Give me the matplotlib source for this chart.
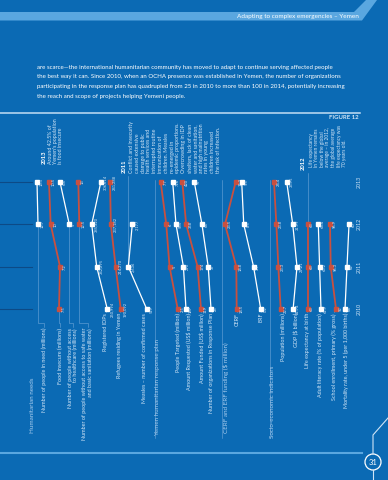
import matplotlib.pyplot as plt
from matplotlib.patches import Circle, Polygon

plt.rcParams['font.family'] = ['Lato', 'DejaVu Sans']

W, H = 388, 480
BG = '#0b6ab4'
BAND = '#5aa7e0'
RED = '#c9503f'
WHITE = '#ffffff'
TXT = '#d3e6f7'
SECTION = '#a9cdee'
GUIDE = '#6ea6d8'
DARK = '#0d4a86'

# ---- data ----
years = [2010, 2011, 2012, 2013]

people_in_need = [None, None, 12.7, 13.1]
food_insecure = [7.5, 7.2, 10, 10.5]
no_healthcare = [None, None, 5, 6.4]
no_water = [None, None, 12.5, 13]
idps = [250994, 342295, 385320, 306614]
refugees = [190092, 214270, 237182, 241288]
measles = [519, 2636, 2177, None]
people_targeted = [2.5, 5, 6, 7.7]
amount_requested = [187, 290, 585, 716]
amount_funded = [119, 174, 358, 420]
organizations = [25, 37, 64, 97]
cerf = [14.5, 14.8, 23.5, 15.3]
erf = [0.2, 3.7, 8.5, 9.5]
population = [22.7, 23.3, 23.8, 24.4]
gdp = [31.74, 29.21, 31.99, 35.95]
life_expectancy = [63, 63, 63, None]
adult_literacy = [61.9, 63.2, 64.4, None]
school_enrollment = [92, 96.3, 96.9, None]
mortality_u5 = [64, 62, 60, None]

paragraph = [
    "are scarce\u2014the international humanitarian community has moved to adapt to continue serving affected people",
    "the best way it can. Since 2010, when an OCHA presence was established in Yemen, the number of organizations",
    "participating in the response plan has quadrupled from 25 in 2010 to more than 100 in 2014, potentially increasing",
    "the reach and scope of projects helping Yemeni people.",
]

note_2013 = "Around 42.5% of\nYemen's population\nis food insecure"
note_2011 = ("Conflict and insecurity\ncaused extensive\ndamage to public\nhealth services and\n"
             "interrupted routine\nimmunization of\nchildren. Measles\nre-emerged in\n"
             "epidemic proportions.\nOvercrowding in IDP\nshelters, lack of clean\n"
             "water and sanitation,\nand high malnutrition\nrates in young\n"
             "children increased\nthe risk of infection.")
note_2012 = ("Life expectancy\nin Yemen remains\nbelow the global\naverage \u2013 in 2012,\n"
             "the global average\nlife expectancy was\n70 years old.")

# values, label, colour, px of max value, px of min value, label x, label top, comma format
series = [
    (people_in_need, 'Number of people in need (millions)', WHITE, 37, 38, 44, 328, False),
    (food_insecure, 'Food insecure (millions)', RED, 49, 60, 60, 328, False),
    (no_healthcare, 'Number of people without access\nto healthcare (millions)', WHITE, 60, 69.3, 73, 328, False),
    (no_water, 'Number of people without access to safe water\nand basic sanitation (millions)', RED, 78.3, 79.3, 87.5, 328, False),
    (idps, 'Registered IDPs', WHITE, 91.7, 107.3, 106, 313, True),
    (refugees, 'Refugees residing in Yemen', RED, 110, 120.7, 120, 313, True),
    (measles, 'Measles \u2013 number of confirmed cases', WHITE, 128.3, 146.7, 145, 313, True),
    (people_targeted, 'People Targeted (million)', RED, 160.7, 177.7, 178, 313, False),
    (amount_requested, 'Amount Requested (US$ million)', WHITE, 172.7, 186, 189, 313, False),
    (amount_funded, 'Amount Funded (US$ million)', RED, 182.3, 201, 201, 313, False),
    (organizations, 'Number of organizations in Response Plan', WHITE, 194.3, 211, 212, 313, False),
    (cerf, 'CERF', RED, 225, 236.7, 237, 313, False),
    (erf, 'ERF', WHITE, 241.7, 260.7, 261, 313, False),
    (population, 'Population (millions)', RED, 274, 280.7, 283, 313, False),
    (gdp, 'GDP ($ billion)', WHITE, 286.7, 297, 295, 313, False),
    (life_expectancy, 'Life expectancy at birth', RED, 307.5, 307.5, 307, 313, False),
    (adult_literacy, 'Adult literacy rate (% of population)', WHITE, 318.3, 321, 320, 313, False),
    (school_enrollment, 'School enrollment, primary (% gross)', RED, 330, 336, 334, 313, False),
    (mortality_u5, 'Mortality rate, under 5 (per 1,000 births)', WHITE, 345, 349, 346, 313, False),
]

sections = [
    ('Humanitarian needs', None, 33, 433),
    ('Yemen humanitarian response plan', 154.5, 158, 436),
    ('CERF and ERF funding ($ million)', 222, 226, 433),
    ('Socio-economic indicators', 270, 273, 438),
]

Y_TOP, Y_BOT = 182, 309   # pixel rows of 2013 and 2010

fig = plt.figure(figsize=(W / 100, H / 100), dpi=100)
fig.patch.set_facecolor(BG)
ax = fig.add_axes([0, 0, 1, 1])
ax.set_xlim(0, W)
ax.set_ylim(H, 0)
ax.axis('off')


def year_px(yr):
    return Y_BOT + (yr - years[0]) * (Y_TOP - Y_BOT) / (years[-1] - years[0])


def to_px(a, x, y):
    return ax.transData.inverted().transform(a.transData.transform((x, y)))


def draw_series(values, color, px_hi, px_lo, comma):
    pts = [(y, v) for y, v in zip(years, values) if v is not None]
    ys = [p[0] for p in pts]
    vs = [p[1] for p in pts]
    vmax, vmin = max(vs), min(vs)
    if vmax == vmin:
        vmax, vmin = vmax + 1, vmin - 1
        px_hi, px_lo = px_hi - 1, px_lo + 1
    a = fig.add_axes([px_hi / W, 1 - Y_BOT / H, (px_lo - px_hi) / W, (Y_BOT - Y_TOP) / H])
    a.set_xlim(vmax, vmin)
    a.set_ylim(years[0], years[-1])
    a.axis('off')
    a.patch.set_alpha(0)
    lw = 1.3 if color == RED else 0.9
    a.plot(vs, ys, color=color, lw=lw, marker='s', ms=2.2, mec=color, mfc=color,
           clip_on=False, solid_capstyle='butt')
    for y, v in pts:
        txt = f"{v:,.0f}" if comma else f"{v:g}"
        a.annotate(txt, (v, y), xytext=(2.0, 0), textcoords='offset points',
                   rotation=90, ha='left', va='center', fontsize=2.9, color=TXT)
    return a, pts


axes_by_name = {}
for values, label, color, px_hi, px_lo, lab_x, lab_top, comma in series:
    a, pts = draw_series(values, color, px_hi, px_lo, comma)
    axes_by_name[label] = (a, pts)
    # leader from the earliest point down to the label
    y0, v0 = pts[0]
    px, py = to_px(a, v0, y0)
    step = lab_top - 5
    ax.plot([px, px, lab_x, lab_x], [py + 2, step, step, lab_top - 1],
            color=GUIDE, lw=0.4, zorder=1)
    ax.text(lab_x, lab_top, label, rotation=90, ha='center', va='top',
            multialignment='right', fontsize=3.9, color=TXT, linespacing=1.1)

# year gridlines at the left and year labels at the right
for yr in years:
    ax.plot([0, 32], [year_px(yr)] * 2, color=DARK, lw=0.8)
    ax.text(359.5, year_px(yr), str(yr), rotation=90, ha='center', va='center',
            fontsize=3.8, color=TXT)

# section labels and separators
for name, sep_x, lab_x, lab_bot in sections:
    if sep_x is not None:
        ax.plot([sep_x, sep_x], [180, 438], color=GUIDE, lw=0.4, zorder=1)
    ax.text(lab_x, lab_bot, name, rotation=90, ha='center', va='bottom',
            fontsize=4.5, color=SECTION)

# annotations
ax.text(44, 164, '2013', rotation=90, ha='center', va='bottom', fontsize=4.2,
        color=WHITE, fontweight='bold')
ax.text(47.5, 164, note_2013, rotation=90, ha='left', va='bottom', fontsize=3.8,
        color=TXT, linespacing=1.1)

a_m, pts_m = axes_by_name['Measles \u2013 number of confirmed cases']
mx, my = to_px(a_m, pts_m[1][1], pts_m[1][0])
ax.plot([mx, mx], [176, my - 2], color=GUIDE, lw=0.4)
ax.text(124, 173, '2011', rotation=90, ha='center', va='bottom', fontsize=4.2,
        color=WHITE, fontweight='bold')
ax.text(129, 173, note_2011, rotation=90, ha='left', va='bottom', fontsize=3.8,
        color=TXT, linespacing=1.2)

a_l, pts_l = axes_by_name['Life expectancy at birth']
lx, ly = to_px(a_l, pts_l[-1][1], pts_l[-1][0])
ax.plot([lx, lx], [173, ly - 2], color=GUIDE, lw=0.4)
ax.text(303, 170, '2012', rotation=90, ha='center', va='bottom', fontsize=4.2,
        color=WHITE, fontweight='bold')
ax.text(308.5, 167, note_2012, rotation=90, ha='left', va='bottom', fontsize=3.5,
        color=TXT, linespacing=1.15)

# page furniture
ax.add_patch(Polygon([(0, 12), (354, 12), (366, 0), (377, 0), (362, 20.5), (0, 20.5)],
                     closed=True, fc=BAND, ec='none'))
ax.text(359, 16.5, 'Adapting to complex emergencies \u2013 Yemen', ha='right', va='center',
        fontsize=4.6, color=WHITE)
for i, line in enumerate(paragraph):
    ax.text(37, 67 + i * 9.7, line, ha='left', va='center', fontsize=4.4, color=WHITE)
ax.plot([0, 360], [112.5, 112.5], color='#c4dff5', lw=1.1)
ax.text(359, 117.5, 'FIGURE 12', ha='right', va='center', fontsize=4.3,
        color=TXT, fontweight='bold')

ax.plot([0, 362], [452.5, 452.5], color=BAND, lw=1.5)
ax.plot([373, 373, 388], [454, 435, 418], color='#cfe4f6', lw=0.8)
ax.plot([373, 373], [470, 480], color='#cfe4f6', lw=0.8)
ax.add_patch(Circle((373, 462), 8, fc=BG, ec=WHITE, lw=0.9))
ax.text(373, 462.5, '31', ha='center', va='center', fontsize=5.5, color=WHITE)

fig.savefig('out.png', dpi=100, facecolor=BG)
